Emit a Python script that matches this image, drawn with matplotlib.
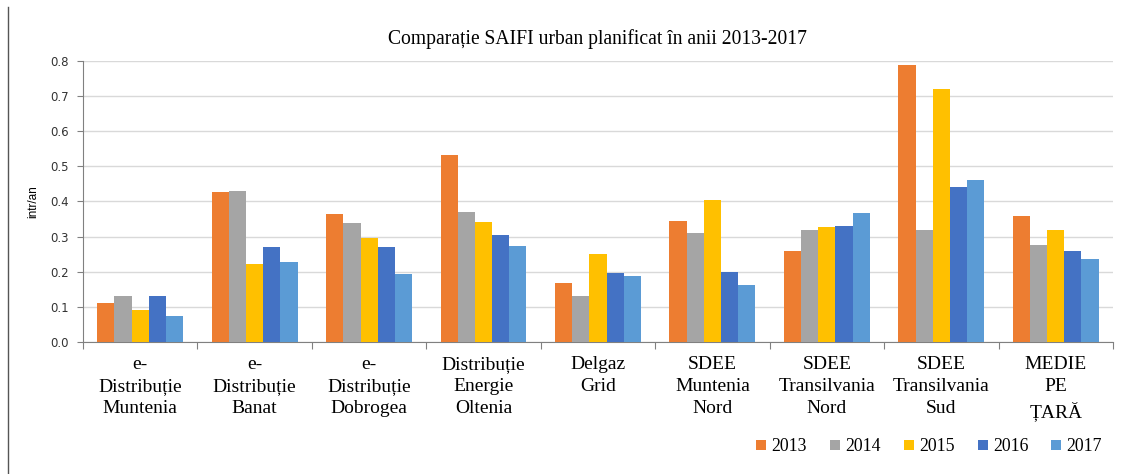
import matplotlib
matplotlib.use("Agg")
import matplotlib.pyplot as plt
from matplotlib.lines import Line2D
import numpy as np

# date
categories = ["e-\nDistribuție\nMuntenia", "e-\nDistribuție\nBanat", "e-\nDistribuție\nDobrogea",
              "Distribuție\nEnergie\nOltenia", "Delgaz\nGrid", "SDEE\nMuntenia\nNord",
              "SDEE\nTransilvania\nNord", "SDEE\nTransilvania\nSud", "MEDIE\nPE\nȚARĂ"]
years = ["2013", "2014", "2015", "2016", "2017"]
v2013 = [0.110, 0.428, 0.364, 0.532, 0.168, 0.344, 0.260, 0.790, 0.360]
v2014 = [0.130, 0.430, 0.340, 0.370, 0.130, 0.309, 0.320, 0.320, 0.277]
v2015 = [0.092, 0.223, 0.295, 0.342, 0.251, 0.403, 0.327, 0.720, 0.320]
v2016 = [0.130, 0.270, 0.270, 0.305, 0.196, 0.200, 0.329, 0.440, 0.260]
v2017 = [0.074, 0.228, 0.193, 0.273, 0.188, 0.163, 0.367, 0.462, 0.236]
series = [v2013, v2014, v2015, v2016, v2017]
colors = ["#ED7D31", "#A5A5A5", "#FFC000", "#4472C4", "#5B9BD5"]

plt.rcParams['font.family'] = ['Liberation Serif', 'DejaVu Serif']

fig = plt.figure(figsize=(11.45, 4.74), dpi=100)
ax = fig.add_axes([0.0725, 0.2785, 0.8995, 0.5928])

x = np.arange(len(categories))
w = 0.75 / len(series)
for i, (vals, c, yr) in enumerate(zip(series, colors, years)):
    ax.bar(x - 0.375 + w * (i + 0.5), vals, width=w, color=c, label=yr, zorder=3)

ax.set_xlim(-0.5, len(categories) - 0.5)
ax.set_ylim(0, 0.8)
ax.set_yticks(np.arange(0, 0.81, 0.1))
ax.set_yticklabels([f"{v:.1f}" for v in np.arange(0, 0.81, 0.1)], fontsize=8.5,
                   family=['DejaVu Sans'], color="#333333")
ax.yaxis.grid(True, color="#d9d9d9", lw=1, zorder=0)

ax.set_xticks(np.arange(-0.5, len(categories), 1))
ax.set_xticklabels([])
ax.set_xticks(x, minor=True)
ax.set_xticklabels(categories, minor=True, fontsize=14, linespacing=1.4)
ax.tick_params(axis='x', which='minor', length=0, pad=10)
ax.tick_params(axis='x', which='major', length=5, color="#808080", direction='out')
ax.tick_params(axis='y', length=4, color="#808080", direction='out', pad=6)

for s in ["top", "right"]:
    ax.spines[s].set_visible(False)
ax.spines["bottom"].set_color("#808080")
ax.spines["left"].set_color("#808080")

ax.set_ylabel("intr/an", fontsize=8.5, family=['Liberation Sans Narrow', 'Liberation Sans'], labelpad=8)
ax.set_title("Comparație SAIFI urban planificat în anii 2013-2017", fontsize=14.1, pad=12)

ax.legend(loc="lower right", bbox_to_anchor=(1.005, -0.46), ncol=5, frameon=False, fontsize=12.8,
          handlelength=0.55, handleheight=0.55, handletextpad=0.3, columnspacing=1.3)

fig.add_artist(Line2D([0.007, 0.007], [0.0, 0.985], color="#555555", lw=1, transform=fig.transFigure))

fig.savefig("out.png", dpi=100)
